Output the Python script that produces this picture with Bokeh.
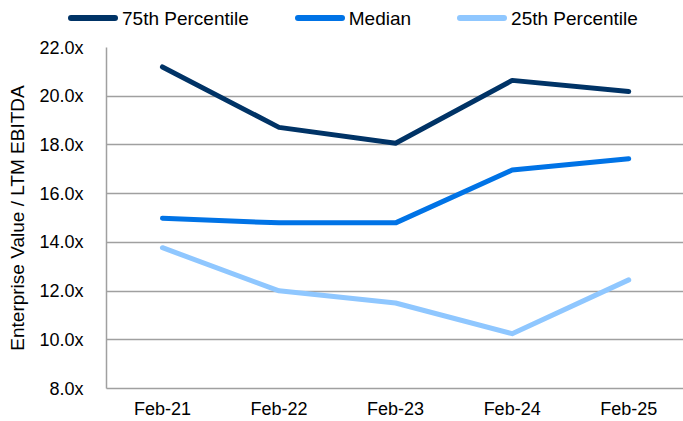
from bokeh.plotting import figure
from bokeh.models import FixedTicker, PrintfTickFormatter, Range1d, Div
from bokeh.layouts import column
from bokeh.embed import file_html
from bokeh.resources import INLINE

categories = ["Feb-21", "Feb-22", "Feb-23", "Feb-24", "Feb-25"]
series_names = ["75th Percentile", "Median", "25th Percentile"]
p75 = [21.2, 18.72, 18.07, 20.65, 20.19]
median = [14.99, 14.8, 14.8, 16.97, 17.43]
p25 = [13.78, 12.01, 11.51, 10.25, 12.46]
y_ticks = [8, 10, 12, 14, 16, 18, 20, 22]

colors = ["#003366", "#0073E6", "#8FC7FF"]
xs = list(range(len(categories)))

FONT = "Liberation Sans"
GRID = "#a0a0a0"

# ---- legend strip (HTML, real text) ----
items_html = []
for i, (name, col) in enumerate(zip(series_names, colors)):
    ml = 68 if i == 0 else 46
    items_html.append(
        f'<span style="display:inline-block;width:50px;height:6px;border-radius:3px;'
        f'background:{col};margin-left:{ml}px;margin-right:4px;"></span>'
        f'<span style="white-space:nowrap;">{name}</span>')
legend_html = ('<div style="display:flex;align-items:center;height:36px;width:683px;'
               f'font-family:\'{FONT}\';font-size:19px;color:#000;line-height:1;">'
               + "".join(items_html) + '</div>')
lg = Div(text=legend_html, width=683, height=36, margin=0)

# ---- main chart ----
p = figure(width=683, height=385, output_backend="svg", toolbar_location=None,
           x_range=Range1d(-0.48, 4.47), y_range=Range1d(8, 22),
           min_border_left=106, min_border_right=0, min_border_top=11, min_border_bottom=31)
p.outline_line_color = None

for ys, c in zip([p75, median, p25], colors):
    p.line(xs, ys, line_color=c, line_width=5, line_cap="round", line_join="round")

p.xaxis.ticker = FixedTicker(ticks=xs)
p.xaxis.major_label_overrides = {i: c for i, c in enumerate(categories)}
p.xaxis.major_tick_line_color = None
p.xaxis.minor_tick_line_color = None
p.xaxis.major_tick_out = 0
p.xaxis.major_tick_in = 0
p.xaxis.minor_tick_out = 0
p.xaxis.axis_line_color = GRID
p.xaxis.axis_line_width = 1.5
p.xaxis.major_label_text_font = FONT
p.xaxis.major_label_text_font_size = "18px"
p.xaxis.major_label_text_color = "#000000"
p.xaxis.major_label_standoff = 10

p.yaxis.ticker = FixedTicker(ticks=y_ticks)
p.yaxis.formatter = PrintfTickFormatter(format="%.1fx")
p.yaxis.major_tick_line_color = None
p.yaxis.minor_tick_line_color = None
p.yaxis.major_tick_out = 0
p.yaxis.major_tick_in = 0
p.yaxis.minor_tick_out = 0
p.yaxis.axis_line_color = GRID
p.yaxis.axis_line_width = 1.5
p.yaxis.major_label_text_font = FONT
p.yaxis.major_label_text_font_size = "18px"
p.yaxis.major_label_text_color = "#000000"
p.yaxis.major_label_standoff = 23
p.yaxis.axis_label = "Enterprise Value / LTM EBITDA"
p.yaxis.axis_label_text_font = FONT
p.yaxis.axis_label_text_font_size = "19px"
p.yaxis.axis_label_text_font_style = "normal"
p.yaxis.axis_label_text_color = "#000000"
p.yaxis.axis_label_standoff = 8

p.xgrid.grid_line_color = None
p.ygrid.grid_line_color = GRID
p.ygrid.grid_line_width = 1.5
p.ygrid.ticker = FixedTicker(ticks=y_ticks)

layout = column(lg, p, spacing=0)
open("out.html", "w").write(file_html(layout, INLINE))
